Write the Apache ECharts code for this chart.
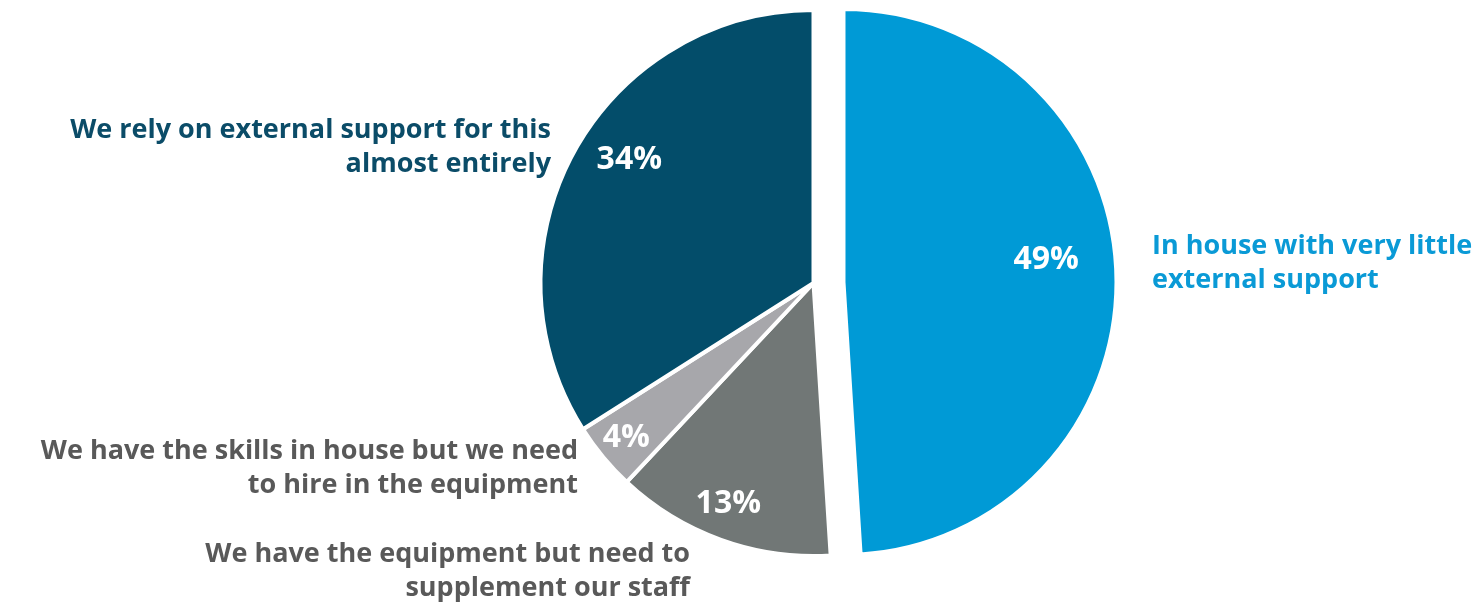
<!DOCTYPE html>
<html>
<head>
<meta charset="utf-8">
<script src="https://cdn.jsdelivr.net/npm/echarts@6/dist/echarts.min.js"></script>
<style>
html,body{margin:0;padding:0;background:#fff;}
#chart{width:1475px;height:605px;}
</style>
</head>
<body>
<div id="chart"></div>
<script>
// ---- data ----
const categories = [
  'In house with very little\nexternal support',
  'We have the equipment but need to\nsupplement our staff',
  'We have the skills in house but we need\nto hire in the equipment',
  'We rely on external support for this\nalmost entirely'
];
const values = [49, 13, 4, 34];
const sliceColors = ['#009AD6', '#717776', '#A7A7AB', '#034D6A'];
const labelColors = ['#0A9AD6', '#595959', '#595959', '#0B4C68'];
const explodedIndex = 0;

// ---- layout ----
const CX = 813.5, CY = 283, R = 273, OFF = 30;
const FONT = '"Open Sans"';
// percent label placement: [radial fraction, angular nudge in degrees]
const pctPlace = [[0.747, -4.4], [0.867, 1.3], [0.89, 0], [0.812, 5]];
// outer label anchors
const outerPlace = [
  {x: 1152, y: 263, align: 'left'},
  {x: 690, y: 571, align: 'right'},
  {x: 578, y: 468, align: 'right'},
  {x: 551, y: 147, align: 'right'}
];

const total = values.reduce((a, b) => a + b, 0);
function midAngle(i) {
  let s = 0;
  for (let j = 0; j < i; j++) s += values[j];
  return (s + values[i] / 2) / total * 360;
}
function pctPos(i) {
  const mid = midAngle(i) * Math.PI / 180;
  let cx = CX, cy = CY;
  if (i === explodedIndex) { cx += OFF * Math.sin(mid); cy -= OFF * Math.cos(mid); }
  const th = (midAngle(i) + pctPlace[i][1]) * Math.PI / 180;
  const r = pctPlace[i][0] * R;
  return {x: cx + r * Math.sin(th), y: cy - r * Math.cos(th)};
}

const chart = echarts.init(document.getElementById('chart'), null, {renderer: 'canvas'});

const baseData = values.map((v, i) => ({
  name: categories[i], value: v,
  selected: i === explodedIndex,
  itemStyle: {color: sliceColors[i]}
}));
const ghost = (withLabelColor) => values.map((v, i) => ({
  name: categories[i], value: v,
  label: withLabelColor ? {color: labelColors[i]} : {}
}));

const common = {
  type: 'pie',
  center: [CX, CY],
  radius: [0, R],
  startAngle: 90,
  clockwise: true,
  avoidLabelOverlap: false,
  animation: false
};

chart.setOption({
  animation: false,
  series: [
    Object.assign({}, common, {
      name: 'slices',
      selectedMode: 'single',
      selectedOffset: OFF,
      itemStyle: {borderColor: '#ffffff', borderWidth: 4},
      label: {show: false},
      labelLine: {show: false},
      emphasis: {disabled: true},
      select: {itemStyle: {borderColor: '#ffffff', borderWidth: 4}},
      data: baseData
    }),
    Object.assign({}, common, {
      name: 'pct',
      silent: true,
      itemStyle: {color: 'rgba(0,0,0,0)', borderWidth: 0},
      emphasis: {disabled: true},
      label: {
        show: true, position: 'inside',
        formatter: p => p.value + '%',
        color: '#ffffff', fontFamily: FONT, fontWeight: 'bold', fontSize: 32
      },
      labelLine: {show: false},
      labelLayout: p => {
        const q = pctPos(p.dataIndex);
        return {x: q.x, y: q.y, align: 'center', verticalAlign: 'middle'};
      },
      data: ghost(false)
    }),
    Object.assign({}, common, {
      name: 'names',
      silent: true,
      itemStyle: {color: 'rgba(0,0,0,0)', borderWidth: 0},
      emphasis: {disabled: true},
      label: {
        show: true, position: 'outside',
        formatter: p => p.name,
        fontFamily: FONT, fontWeight: 'bold', fontSize: 27, lineHeight: 34
      },
      labelLine: {show: false},
      labelLayout: p => {
        const o = outerPlace[p.dataIndex];
        return {x: o.x, y: o.y, align: o.align, verticalAlign: 'middle'};
      },
      data: ghost(true)
    })
  ]
});
</script>
</body>
</html>
